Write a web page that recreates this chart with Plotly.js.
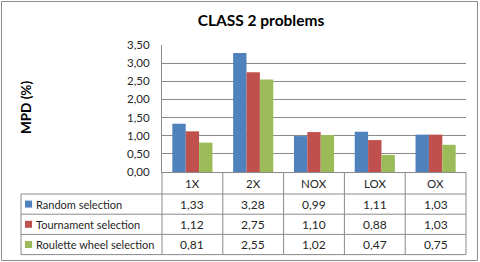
<!DOCTYPE html>
<html>
<head>
<meta charset="utf-8">
<script src="https://cdn.plot.ly/plotly-3.0.1.min.js"></script>
<style>html,body{margin:0;padding:0;background:#fff;}#chart{width:480px;height:262px;}</style>
</head>
<body>
<div id="chart"></div>
<script>
var categories = ["1X", "2X", "NOX", "LOX", "OX"];
var seriesNames = ["Random selection", "Tournament selection", "Roulette wheel selection"];
var randomSel = [1.33, 3.28, 0.99, 1.11, 1.03];
var tournamentSel = [1.12, 2.75, 1.10, 0.88, 1.03];
var rouletteSel = [0.81, 2.55, 1.02, 0.47, 0.75];
var seriesValues = [randomSel, tournamentSel, rouletteSel];
var seriesColors = ["#4F81BD", "#C0504D", "#9BBB59"];
var chartTitle = "CLASS 2 problems";
var yTitle = "MPD (%)";

var W = 480, H = 262;
var L = 162, R = 14, T = 45, B = 90;
var plotW = W - L - R, plotH = H - T - B;
function px(x) { return (x - L) / plotW; }
function py(y) { return (H - B - y) / plotH; }
var FONT = "Lato, 'Open Sans', sans-serif";
var lineCol = "#8a8a8a";
var textCol = "#262626";

function fmt(v) { return v.toFixed(2).replace('.', ','); }

var traces = seriesValues.map(function (vals, i) {
  return {
    type: 'bar', x: categories, y: vals, name: seriesNames[i],
    marker: {color: seriesColors[i], line: {width: 0}},
    hoverinfo: 'none'
  };
});

var tableTop = 172, headerBottom = 194, rowH = 20.2;
var tableLeft = 21;
var tableBottom = headerBottom + rowH * seriesNames.length;
var shapes = [], annotations = [];

for (var r = 0; r <= seriesNames.length; r++) {
  var yy = headerBottom + r * rowH;
  shapes.push({type: 'line', xref: 'paper', yref: 'paper', x0: px(tableLeft), x1: 1, y0: py(yy), y1: py(yy), line: {color: lineCol, width: 1}});
}
shapes.push({type: 'line', xref: 'paper', yref: 'paper', x0: px(tableLeft), x1: px(tableLeft), y0: py(headerBottom), y1: py(tableBottom), line: {color: lineCol, width: 1}});
shapes.push({type: 'line', xref: 'paper', yref: 'paper', x0: 0, x1: 0, y0: py(tableTop), y1: py(tableBottom), line: {color: lineCol, width: 1}});
for (var c = 0; c < categories.length; c++) {
  var xp = (c + 1) / categories.length;
  shapes.push({type: 'line', xref: 'paper', yref: 'paper', x0: xp, x1: xp, y0: py(tableTop), y1: py(tableBottom), line: {color: lineCol, width: 1}});
}
shapes.push({type: 'rect', xref: 'paper', yref: 'paper', x0: px(1.5), x1: px(477.5), y0: py(1.5), y1: py(260.5), line: {color: '#8c8c8c', width: 1}});

categories.forEach(function (cat) {
  annotations.push({xref: 'x', yref: 'paper', x: cat, y: py((tableTop + headerBottom) / 2), text: cat, showarrow: false, xanchor: 'center', yanchor: 'middle', font: {family: FONT, size: 11.5, color: textCol}});
});
seriesNames.forEach(function (name, i) {
  var yc = headerBottom + (i + 0.5) * rowH;
  shapes.push({type: 'rect', xref: 'paper', yref: 'paper', x0: px(25), x1: px(32), y0: py(yc - 3.5), y1: py(yc + 3.5), fillcolor: seriesColors[i], line: {width: 0}});
  annotations.push({xref: 'paper', yref: 'paper', x: px(34), y: py(yc), text: name, showarrow: false, xanchor: 'left', yanchor: 'middle', font: {family: FONT, size: 11, color: textCol}});
  seriesValues[i].forEach(function (v, j) {
    annotations.push({xref: 'x', yref: 'paper', x: categories[j], y: py(yc), text: fmt(v), showarrow: false, xanchor: 'center', yanchor: 'middle', font: {family: FONT, size: 12, color: textCol}});
  });
});
annotations.push({xref: 'paper', yref: 'paper', x: px(26), y: py(108), text: '<b>' + yTitle + '</b>', textangle: -90, showarrow: false, xanchor: 'center', yanchor: 'middle', font: {family: FONT, size: 13.5, color: '#000'}});

var layout = {
  width: W, height: H,
  margin: {l: L, r: R, t: T, b: B, pad: 0},
  paper_bgcolor: '#fff', plot_bgcolor: '#fff',
  separators: ', ',
  showlegend: false,
  barmode: 'group', bargap: 0.34, bargroupgap: 0,
  title: {text: '<b>' + chartTitle + '</b>', xref: 'container', x: 261 / W, xanchor: 'center', y: 1 - 21 / H, yanchor: 'middle', font: {family: FONT, size: 15.5, color: '#000'}},
  xaxis: {type: 'category', range: [-0.5, categories.length - 0.5], showticklabels: false, showgrid: false, showline: true, linecolor: lineCol, linewidth: 1, ticks: '', zeroline: false, fixedrange: true},
  yaxis: {range: [0, 3.5], dtick: 0.5, tick0: 0, tickformat: '.2f', showgrid: true, gridcolor: lineCol, gridwidth: 1, showline: true, linecolor: lineCol, linewidth: 1, ticks: '', ticklabelstandoff: 9, zeroline: false, tickfont: {family: FONT, size: 11.5, color: textCol}, fixedrange: true},
  shapes: shapes,
  annotations: annotations
};

Plotly.newPlot('chart', traces, layout, {displayModeBar: false, staticPlot: true});
</script>
</body>
</html>
